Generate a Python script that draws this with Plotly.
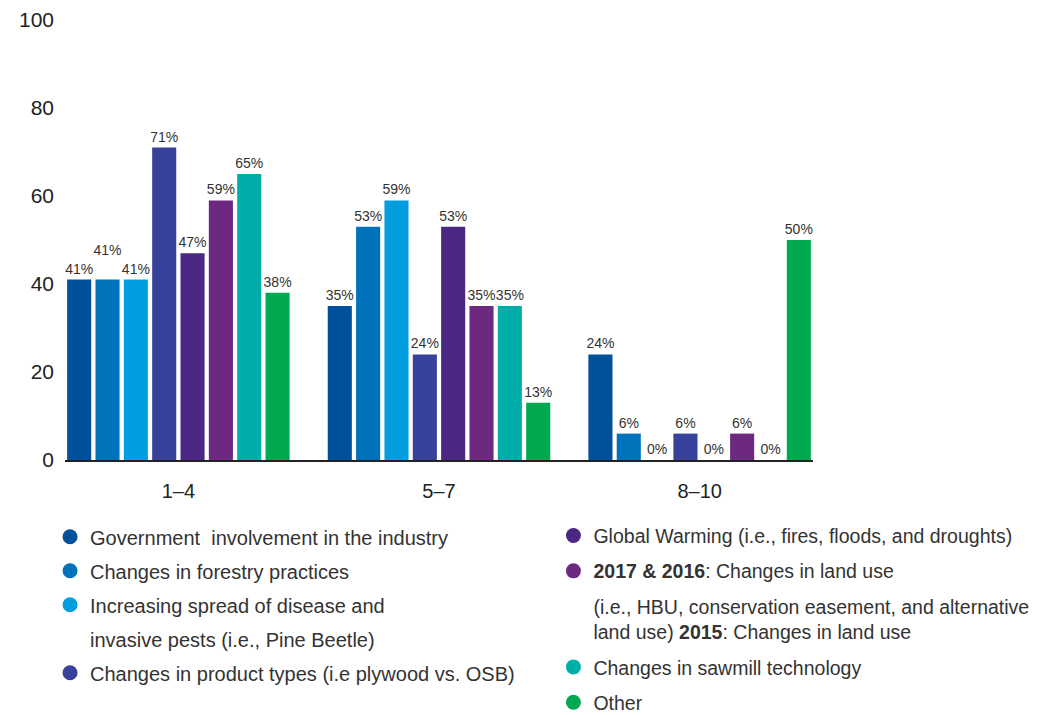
import plotly.graph_objects as go

# Data (percent of respondents)
categories = ['1–4', '5–7', '8–10']

series_names = [
    'Government  involvement in the industry',
    'Changes in forestry practices',
    'Increasing spread of disease and',
    'Changes in product types (i.e plywood vs. OSB)',
    'Global Warming (i.e., fires, floods, and droughts)',
    '<b>2017 &amp; 2016</b>: Changes in land use',
    'Changes in sawmill technology',
    'Other',
]
# second part of the two long legend labels (shown without a marker)
name_continued = {
    2: 'invasive pests (i.e., Pine Beetle)',
    5: '(i.e., HBU, conservation easement, and alternative<br>land use) <b>2015</b>: Changes in land use',
}

government = [41, 35, 24]
forestry = [41, 53, 6]
pests = [41, 59, 0]
product_types = [71, 24, 6]
global_warming = [47, 53, 0]
land_use = [59, 35, 6]
sawmill = [65, 35, 0]
other = [38, 13, 50]

series_values = [government, forestry, pests, product_types,
                 global_warming, land_use, sawmill, other]

colors = ['#00509a', '#0071bb', '#009edf', '#38429a',
          '#4b2784', '#6d2880', '#00aea9', '#00a94f']

FONT = 'Liberation Sans, Arial, sans-serif'
BARGAP = 0.13

fig = go.Figure()

for i, (name, vals, col) in enumerate(zip(series_names, series_values, colors)):
    labels = [f'{v}%' for v in vals]
    if i == 1:
        # the middle "41%" sits a line higher in the original so the labels don't collide
        labels[0] = labels[0] + '<br> '
    fig.add_trace(go.Bar(
        x=categories,
        y=vals,
        name=name,
        marker=dict(color=col, line=dict(width=0)),
        text=labels,
        texttemplate='%{text}',
        textposition='outside',
        constraintext='none',
        cliponaxis=False,
        textfont=dict(size=14, color='#333333', family=FONT),
        showlegend=False,
        hoverinfo='skip',
    ))

# legend entries with round markers, split over two columns
for i, (name, col) in enumerate(zip(series_names, colors)):
    which = 'legend' if i < 4 else 'legend2'
    fig.add_trace(go.Scatter(
        x=[None], y=[None],
        mode='markers',
        marker=dict(color=col, size=15, symbol='circle'),
        name=name,
        legendgroup=f'g{i}',
        legend=which,
    ))
    if i in name_continued:
        fig.add_trace(go.Scatter(
            x=[None], y=[None],
            mode='markers',
            marker=dict(color='rgba(0,0,0,0)', size=1),
            name=name_continued[i],
            legendgroup=f'g{i}b',
            legend=which,
        ))

legend_style = dict(
    orientation='v',
    yanchor='top',
    xanchor='left',
    valign='top',
    itemwidth=30,
    bgcolor='rgba(0,0,0,0)',
)

# axis line runs only from the first bar to the last one
edge = -0.5 + BARGAP / 2

fig.update_layout(
    barmode='group',
    bargap=BARGAP,
    bargroupgap=0.15,
    width=1046,
    height=715,
    margin=dict(l=57, r=241, t=12, b=263, autoexpand=False),
    paper_bgcolor='white',
    plot_bgcolor='white',
    font=dict(family=FONT, color='#222222'),
    xaxis=dict(
        range=[edge, len(categories) - 1 - edge],
        showline=True,
        linecolor='#222222',
        linewidth=2,
        showgrid=False,
        ticks='',
        tickfont=dict(size=20, color='#222222'),
        ticklabelstandoff=12,
    ),
    yaxis=dict(
        range=[0, 100],
        dtick=20,
        showgrid=False,
        zeroline=False,
        showline=False,
        ticks='',
        tickfont=dict(size=21, color='#222222'),
        ticklabelstandoff=10,
    ),
    legend=dict(x=-0.02, y=-0.13, tracegroupgap=5,
                font=dict(size=20, color='#333333', family=FONT), **legend_style),
    legend2=dict(x=0.653, y=-0.128, tracegroupgap=7,
                 font=dict(size=19.5, color='#333333', family=FONT), **legend_style),
)

fig.write_html('out.html')
